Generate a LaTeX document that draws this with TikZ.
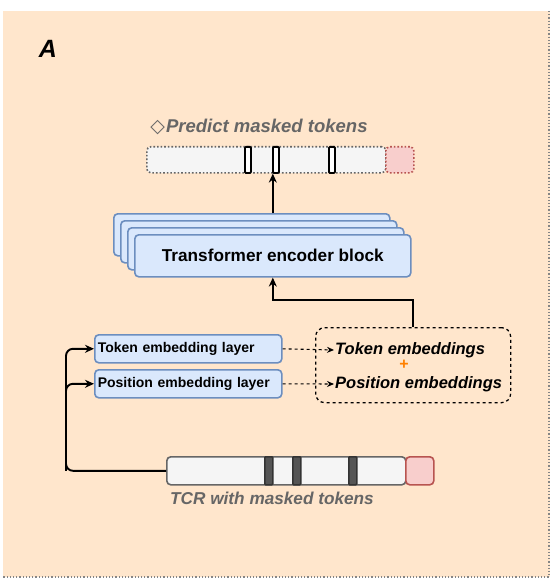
\documentclass[tikz,border=0pt]{standalone}
\usepackage{fontspec}
\setmainfont{Liberation Sans}
\newfontfamily\symf{DejaVu Sans}
\usetikzlibrary{arrows.meta}
\definecolor{bgpeach}{HTML}{FFE6CC}
\definecolor{blfill}{HTML}{DAE8FC}
\definecolor{bldraw}{HTML}{6C8EBF}
\definecolor{grfill}{HTML}{F5F5F5}
\definecolor{grdraw}{HTML}{666666}
\definecolor{pkfill}{HTML}{F8CECC}
\definecolor{pkdraw}{HTML}{B85450}
\definecolor{orng}{HTML}{FF8000}
\definecolor{maskc}{HTML}{555555}
\begin{document}
\begin{tikzpicture}[x=1pt,y=-1pt,
  box/.style={draw, rounded corners=4pt, anchor=north west, inner sep=0pt, line width=1.6pt},
  bluebox/.style={box, fill=blfill, draw=bldraw},
  tfbox/.style={bluebox, minimum width=276pt, minimum height=42pt},
  embbox/.style={bluebox, text width=181pt, inner sep=3pt, minimum height=28pt, align=left, font=\bfseries\fontsize{14}{16}\selectfont},
  barbox/.style={box, fill=grfill, draw=grdraw, minimum width=239pt, minimum height=26pt},
  pinkbox/.style={box, fill=pkfill, draw=pkdraw, minimum width=28pt, minimum height=26pt},
  hollowmask/.style={box, rounded corners=1pt, fill=white, draw=black, line width=1.8pt, minimum width=6pt, minimum height=26pt},
  solidmask/.style={box, rounded corners=1pt, fill=maskc, draw=black!80, minimum width=8pt, minimum height=28pt},
  arr/.style={line width=1.9pt, -{Stealth[length=9pt,width=8pt]}},
  darr/.style={line width=1.1pt, dashed, -{Stealth[length=7pt,width=6pt]}},
  label/.style={font=\bfseries\itshape\fontsize{16.5}{18}\selectfont, inner sep=1pt},
]
\useasboundingbox (0,0) rectangle (553,580);
\fill[bgpeach] (3,11) rectangle (550,577);
\draw[grdraw!80, dotted, line width=1.2pt] (549,11) -- (549,577) -- (3,577);

\node[font=\bfseries\itshape\fontsize{25}{27}\selectfont, anchor=center] (lblA) at (48,49) {A};

% predicted bar
\node[font=\bfseries\itshape\fontsize{18.5}{20}\selectfont, text=grdraw] (ptitle) at (259,127) {{\symf\bfseries\upshape\fontsize{19}{20}\selectfont\char"25C7}\hspace{1pt}Predict masked tokens};
\node[barbox, dotted] (pbar) at (146,146) {};
\node[pinkbox, dotted] (ppink) at (385,146) {};
\node[hollowmask] (pm1) at (244,146) {};
\node[hollowmask] (pm2) at (272,146) {};
\node[hollowmask] (pm3) at (328,146) {};

% transformer stack
\node[tfbox] (t1) at (113,213) {};
\node[tfbox] (t2) at (120,220) {};
\node[tfbox] (t3) at (127,227) {};
\node[tfbox, font=\bfseries\fontsize{17.2}{19}\selectfont] (t4) at (134,234) {Transformer encoder block};

\draw[arr] (t4.north |- t1.north) -- (t4.north |- pbar.south);

% embedding layers
\node[embbox] (tok) at (94,334) {Token embedding layer};
\node[embbox] (pos) at (94,369) {Position embedding layer};

% dashed box
\node[box, dashed, line width=1.3pt, rounded corners=9pt, minimum width=195pt, minimum height=75pt] (dbox) at (315,327) {};
\node[label, text=black, anchor=west] (te) at (334,350) {Token embeddings};
\node[font=\bfseries\fontsize{16}{16}\selectfont, text=orng, inner sep=0pt] (plus) at (404,365) {+};
\node[label, text=black, anchor=west] (pe) at (334,384) {Position embeddings};

\draw[darr] (tok.east) -- (te.west);
\draw[darr] (pos.east) -- (pe.west);

\draw[arr] (dbox.north) -- ++(0,-27) -| (t4.south);

% TCR bar
\node[barbox, minimum height=28pt] (tcr) at (166,456) {};
\node[pinkbox, minimum height=28pt] (tpink) at (405,456) {};
\node[solidmask] (m1) at (264,456) {};
\node[solidmask] (m2) at (292,456) {};
\node[solidmask] (m3) at (348,456) {};
\node[label, font=\bfseries\itshape\fontsize{17.2}{19}\selectfont, text=grdraw] (tcrlbl) at (272,498) {TCR with masked tokens};

\coordinate (lx) at (66,0);
\draw[arr, rounded corners=7pt] (tcr.west) -| (lx |- tok.west) -- (tok.west);
\draw[arr, rounded corners=7pt] (lx |- tcr.west) |- (pos.west);
\end{tikzpicture}
\end{document}
